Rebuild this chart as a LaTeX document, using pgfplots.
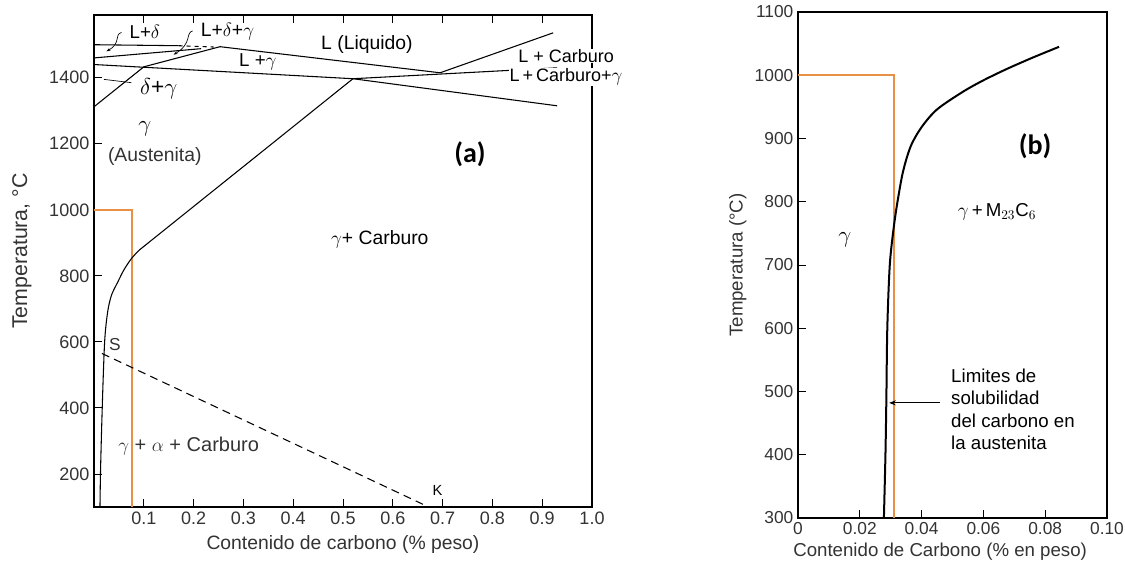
\documentclass[border=0pt]{standalone}
\usepackage{fontspec}
\setmainfont{Liberation Sans}
\newfontfamily\calibri{Carlito}
\usepackage{pgfplots}
\pgfplotsset{compat=1.18}
\usetikzlibrary{arrows.meta}
\definecolor{orng}{RGB}{232,145,70}
\begin{document}
\begin{tikzpicture}[x=1pt,y=1pt]
\useasboundingbox (0,0) rectangle (843.75,425.25);
% ---------------- (a) ----------------
\begin{axis}[
  at={(70.5pt,45pt)}, anchor=south west, scale only axis,
  width=373.5pt, height=369pt,
  xmin=0, xmax=1, ymin=100, ymax=1590,
  xtick={0.1,0.2,0.3,0.4,0.5,0.6,0.7,0.8,0.9,1.0},
  xticklabels={0.1,0.2,0.3,0.4,0.5,0.6,0.7,0.8,0.9,1.0},
  ytick={200,400,600,800,1000,1200,1400},
  xtick pos=both, ytick pos=left,
  major tick length=6pt,
  tick style={black, line width=0.7pt},
  axis line style={line width=0.8pt},
  /pgf/number format/assume math mode=true,
  /pgf/number format/1000 sep={},
  tick label style={font=\fontsize{13.5}{15}\selectfont, text=black!80},
  xlabel={Contenido de carbono (\% peso)},
  ylabel={Temperatura, \textdegree C},
  xlabel style={font=\fontsize{14.5}{16}\selectfont, text=black!80, at={(axis description cs:0.5,-0.077)}, anchor=center},
  ylabel style={font=\fontsize{16}{18}\selectfont, text=black!80, at={(axis description cs:-0.145,0.52)}, anchor=center},
  clip=false,
]
% orange limit
\addplot[orng, line width=1.1pt] coordinates {(0,1000) (0.076,1000) (0.076,100)};
% top lines
\addplot[black, line width=0.8pt] coordinates {(0,1500) (0.17,1497)};
\addplot[black, line width=0.8pt, dashed] coordinates {(0.17,1497) (0.24,1493)};
\addplot[black, line width=0.8pt] coordinates {(0,1460) (0.215,1488)};
\addplot[black, line width=0.8pt] coordinates {(0,1312) (0.10,1433) (0.253,1494)};
\addplot[black, line width=0.8pt] coordinates {(0.253,1494) (0.695,1415)};
\addplot[black, line width=0.8pt] coordinates {(0,1440) (0.52,1397)};
\addplot[black, line width=0.8pt] coordinates {(0.695,1415) (0.922,1536)};
\addplot[black, line width=0.8pt] coordinates {(0.52,1397) (0.93,1430)};
\addplot[black, line width=0.8pt] coordinates {(0.52,1397) (0.93,1315)};
% solvus gamma / gamma+carbide
\addplot[black, line width=0.8pt] coordinates {(0.52,1397) (0.09,877)};
\addplot[black, line width=0.8pt, smooth] coordinates {(0.09,877) (0.075,852) (0.06,818) (0.048,782) (0.036,745) (0.029,705) (0.024,650) (0.021,590) (0.018,470) (0.015,320) (0.013,200) (0.012,100)};
% dashed S-K
\addplot[black, line width=0.8pt, dash pattern=on 6pt off 4pt] coordinates {(0.016,565) (0.665,105)};
% labels
\node[font=\fontsize{14}{16}\selectfont] at (axis cs:0.102,1538) {L+$\delta$};
\node[font=\fontsize{14.5}{16}\selectfont] at (axis cs:0.268,1540) {L+$\delta$+$\gamma$};
\draw[black, line width=0.5pt, -{Stealth[length=3pt]}] (axis cs:0.055,1537) .. controls (axis cs:0.04,1530) and (axis cs:0.055,1505) .. (axis cs:0.025,1480);
\draw[black, line width=0.5pt, -{Stealth[length=3pt]}] (axis cs:0.198,1542) .. controls (axis cs:0.183,1535) and (axis cs:0.198,1505) .. (axis cs:0.16,1470);
\draw[black, line width=0.5pt] (axis cs:0.075,1385) -- (axis cs:0.02,1395);
\node[font=\fontsize{14.5}{16}\selectfont] at (axis cs:0.548,1502) {L (Liquido)};
\node[font=\fontsize{13.5}{15}\selectfont, fill=white, inner sep=0.3pt] at (axis cs:0.948,1467) {L + Carburo};
\node[font=\fontsize{13.5}{15}\selectfont, fill=white, inner sep=0.3pt] at (axis cs:0.948,1403) {L\,+\,Carburo+$\gamma$};
\node[font=\fontsize{14}{16}\selectfont] at (axis cs:0.329,1448) {L +$\gamma$};
\node[font=\fontsize{17}{19}\selectfont] at (axis cs:0.13,1366) {$\delta$+$\gamma$};
\node[font=\fontsize{18}{20}\selectfont] at (axis cs:0.102,1245) {$\gamma$};
\node[font=\fontsize{14.5}{16}\selectfont, text=black!80] at (axis cs:0.122,1161) {(Austenita)};
\node[font=\calibri\bfseries\fontsize{21}{23}\selectfont] at (axis cs:0.755,1167) {(a)};
\node[font=\fontsize{14.5}{16}\selectfont] at (axis cs:0.574,910) {$\gamma$+ Carburo};
\node[font=\fontsize{13}{15}\selectfont, text=black!80] at (axis cs:0.042,593) {S};
\node[font=\fontsize{15}{17}\selectfont, text=black!80] at (axis cs:0.19,284) {$\gamma$ + $\alpha$ + Carburo};
\node[font=\fontsize{11}{13}\selectfont] at (axis cs:0.69,150) {K};
\end{axis}
% ---------------- (b) ----------------
\begin{axis}[
  at={(598.5pt,36.75pt)}, anchor=south west, scale only axis,
  width=231.75pt, height=379.5pt,
  xmin=0, xmax=0.1, ymin=300, ymax=1100,
  xtick={0,0.02,0.04,0.06,0.08,0.1},
  xticklabels={0,0.02,0.04,0.06,0.08,0.10},
  ytick={300,400,500,600,700,800,900,1000,1100},
  tick pos=left,
  major tick length=6pt,
  tick style={black, line width=0.7pt},
  axis line style={line width=0.9pt},
  /pgf/number format/assume math mode=true,
  /pgf/number format/1000 sep={},
  tick label style={font=\fontsize{13}{15}\selectfont, text=black!80},
  xlabel={Contenido de Carbono (\% en peso)},
  ylabel={Temperatura (\textdegree C)},
  xlabel style={font=\fontsize{14}{16}\selectfont, text=black!80, at={(axis description cs:0.46,-0.067)}, anchor=center},
  ylabel style={font=\fontsize{14}{16}\selectfont, text=black!80, at={(axis description cs:-0.195,0.5)}, anchor=center},
  clip=false,
]
\addplot[orng, line width=1.2pt] coordinates {(0,1000) (0.031,1000) (0.031,300)};
\addplot[black, line width=1.5pt, smooth] coordinates {(0.0278,300) (0.0283,400) (0.0286,490) (0.0289,600) (0.0297,700) (0.0310,760) (0.0322,800) (0.0340,848) (0.0365,888) (0.040,918) (0.045,946) (0.0534,974) (0.060,992) (0.0676,1010) (0.076,1028) (0.0845,1045)};
\node[font=\calibri\bfseries\fontsize{21}{23}\selectfont] at (axis cs:0.0767,887) {(b)};
\node[font=\fontsize{14}{16}\selectfont] at (axis cs:0.0644,784) {$\gamma$\,+\,M$_{23}$C$_6$};
\node[font=\fontsize{18}{20}\selectfont] at (axis cs:0.0152,740) {$\gamma$};
\node[font=\fontsize{14}{16.8}\selectfont, align=left, anchor=north west, inner sep=0pt] at (axis cs:0.0495,536) {Limites de\\solubilidad\\del carbono en\\la austenita};
\draw[black, line width=0.7pt, -{Stealth[length=5pt]}] (axis cs:0.046,482) -- (axis cs:0.0295,482);
\end{axis}
\end{tikzpicture}
\end{document}
